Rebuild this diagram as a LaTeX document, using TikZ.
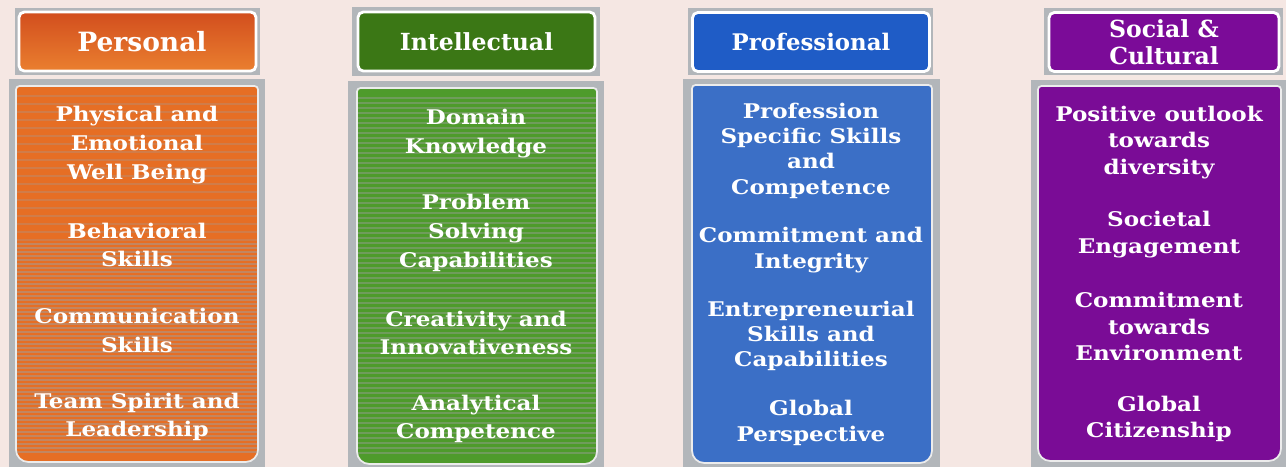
\documentclass[tikz,border=0pt]{standalone}
\usepackage{fontspec}
\setmainfont{DejaVu Serif}
\newfontfamily\itemfont{DejaVu Serif}[FakeStretch=1.14]
\usetikzlibrary{positioning}
\definecolor{bgpink}{HTML}{F5E7E3}
\definecolor{framegray}{HTML}{B2B6BA}
\definecolor{persontop}{HTML}{D24E1E}
\definecolor{personbot}{HTML}{EA7F2F}
\definecolor{personbody}{HTML}{E66E24}
\definecolor{intelhead}{HTML}{3B7715}
\definecolor{intelbody}{HTML}{4E9B2B}
\definecolor{profhead}{HTML}{1F5CC6}
\definecolor{profbody}{HTML}{3B6FC6}
\definecolor{sochead}{HTML}{7B0B98}
\definecolor{socbody}{HTML}{7A0C96}
\tikzstyle{frame} = [fill=framegray, draw=none]
\tikzstyle{headbox} = [rectangle, rounded corners=3pt, draw=white, line width=1.6pt, minimum width=4.74cm, minimum height=1.18cm, text=white, align=center, font=\bfseries\fontsize{13.4}{15.5}\selectfont]
\tikzstyle{bodyline} = [draw=white!85!gray, line width=1pt]
\tikzstyle{stripe} = [gray!75, opacity=0.3, line width=1.3pt]
\tikzstyle{item} = [text=white, align=center, font=\itemfont\bfseries\fontsize{11.5}{16.4}\selectfont, inner sep=0pt]
\tikzstyle{itemsm} = [item, font=\itemfont\bfseries\fontsize{11.5}{14.4}\selectfont]

\begin{document}
\begin{tikzpicture}[x=0.02cm, y=-0.02cm]
    \fill [bgpink] (0,0) rectangle (1286,467);
    \useasboundingbox (0,0) rectangle (1286,467);
    % Personal
    \fill [frame] (15,8) rectangle (260,75);
    \fill [frame] (9,79) rectangle (265,467);
    \node [headbox, top color=persontop, bottom color=personbot] at (137.5,41.5) (personal) {\hspace{5pt}\fontsize{15.1}{17}\selectfont Personal};
    \draw [bodyline, fill=personbody] (16,86) [rounded corners=2pt] -- (258,86) -- (258,300) [rounded corners=7pt] -- (258,462) -- (16,462) -- (16,300) [rounded corners=2pt] -- cycle;
    \foreach \y in {96,104,...,240}
        \draw [stripe] (17,\y) -- (257,\y);
    \foreach \y in {244,248,...,455}
        \draw [stripe, opacity=0.5] (17,\y) -- (257,\y);
    \node [item] at (137,145) (wellbeing) {Physical and\\Emotional\\Well Being};
    \node [item] at (137,245) (behav) {Behavioral\\Skills};
    \node [item] at (137,330.5) (comm) {Communication\\Skills};
    \node [item] at (137,417) (team) {Team Spirit and\\Leadership};
    % Intellectual
    \fill [frame] (352,7) rectangle (600,76);
    \fill [frame] (348,81) rectangle (604,467);
    \node [headbox, fill=intelhead] at (476.5,41.5) (intel) {Intellectual};
    \draw [bodyline, fill=intelbody] (357,88) [rounded corners=2pt] -- (597,88) -- (597,300) [rounded corners=7pt] -- (597,464) -- (357,464) -- (357,300) [rounded corners=2pt] -- cycle;
    \foreach \y in {98,103,...,456}
        \draw [stripe, opacity=0.42] (358,\y) -- (596,\y);
    \node [item] at (476,133.5) (domain) {Domain\\Knowledge};
    \node [item] at (476,233) (problem) {Problem\\Solving\\Capabilities};
    \node [item] at (476,333) (creative) {Creativity and\\Innovativeness};
    \node [item] at (476,419) (analytic) {Analytical\\Competence};
    % Professional
    \fill [frame] (688,8) rectangle (933,75);
    \fill [frame] (683,79) rectangle (940,467);
    \node [headbox, fill=profhead] at (811,42) (prof) {\fontsize{13}{15}\selectfont Professional};
    \draw [bodyline, fill=profbody] (692,85) [rounded corners=2pt] -- (932,85) -- (932,300) [rounded corners=7pt] -- (932,463) -- (692,463) -- (692,300) [rounded corners=2pt] -- cycle;
    \node [itemsm] at (811,150.5) (specific) {Profession\\Specific Skills\\and\\Competence};
    \node [itemsm] at (811,250) (integrity) {Commitment and\\Integrity};
    \node [itemsm] at (811,336) (entre) {Entrepreneurial\\Skills and\\Capabilities};
    \node [itemsm] at (811,423) (globalp) {Global\\Perspective};
    % Social & Cultural
    \fill [frame] (1044,8) rectangle (1283,75);
    \fill [frame] (1031,80) rectangle (1286,467);
    \node [headbox, fill=sochead, minimum width=4.6cm] at (1164,42) (social) {\fontsize{13.4}{14.8}\selectfont Social \&\\Cultural};
    \draw [bodyline, fill=socbody] (1038,86) [rounded corners=2pt] -- (1281,86) -- (1281,300) [rounded corners=7pt] -- (1281,461) -- (1038,461) -- (1038,300) [rounded corners=2pt] -- cycle;
    \node [itemsm, font=\itemfont\bfseries\fontsize{11.5}{15.2}\selectfont] at (1159,142.5) (diversity) {Positive outlook\\towards\\diversity};
    \node [itemsm, font=\itemfont\bfseries\fontsize{11.5}{15.2}\selectfont] at (1159,234.5) (societal) {Societal\\Engagement};
    \node [itemsm, font=\itemfont\bfseries\fontsize{11.5}{15.2}\selectfont] at (1159,326.5) (environ) {Commitment\\towards\\Environment};
    \node [itemsm, font=\itemfont\bfseries\fontsize{11.5}{15.2}\selectfont] at (1159,419) (citizen) {Global\\Citizenship};
\end{tikzpicture}
\end{document}
